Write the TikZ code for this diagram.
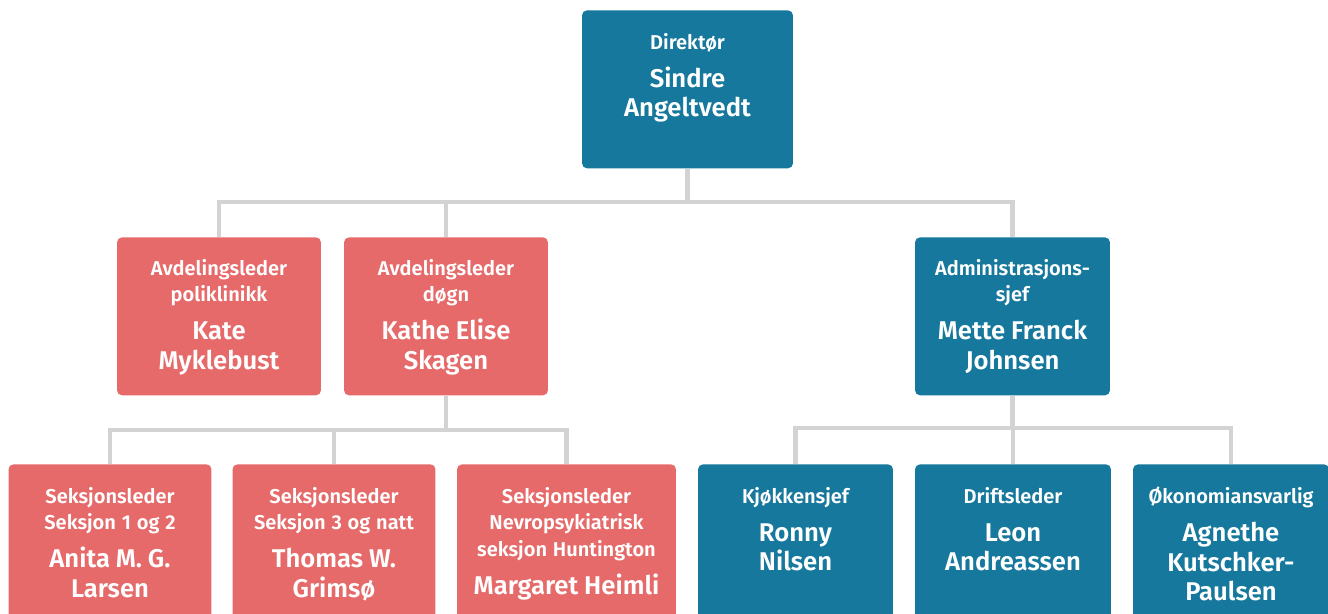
\documentclass[tikz,border=0pt]{standalone}
\usepackage{fontspec}
\setmainfont{Fira Sans}[BoldFont={Fira Sans SemiBold}]
\usetikzlibrary{positioning}
\definecolor{orgteal}{RGB}{22,120,156}
\definecolor{orgred}{RGB}{230,106,106}
\definecolor{orgline}{RGB}{211,211,211}
\newcommand{\titlef}{\fontsize{11.4}{15.1}\selectfont}
\newcommand{\namef}{\fontsize{14.6}{16.6}\selectfont}
\tikzset{
  orgbox/.style={anchor=north, rounded corners=0.1cm, minimum height=3.16cm, inner sep=0pt},
  tealbox/.style={orgbox, fill=orgteal},
  redbox/.style={orgbox, fill=orgred},
  boxtext/.style={anchor=north, inner sep=0pt, text=white, font=\bfseries,
    text width=4.3cm, align=center},
  conn/.style={draw=orgline, line width=2.4pt}
}
\begin{document}
\begin{tikzpicture}[x=0.02cm, y=-0.02cm]
  \clip (0,0) rectangle (1328,614);
  \fill[white] (0,0) rectangle (1328,614);
  % boxes
  \node[tealbox, minimum width=4.22cm] (dir) at (687.5,10) {};
  \node[redbox, minimum width=4.08cm] (avd1) at (219,237) {};
  \node[redbox, minimum width=4.08cm] (avd2) at (446,237) {};
  \node[tealbox, minimum width=3.90cm] (adm) at (1012.5,237) {};
  \node[redbox, minimum width=4.06cm] (sek1) at (110,464) {};
  \node[redbox, minimum width=4.06cm] (sek2) at (334,464) {};
  \node[redbox, minimum width=4.38cm] (sek3) at (566.5,464) {};
  \node[tealbox, minimum width=3.90cm] (kjo) at (795.5,464) {};
  \node[tealbox, minimum width=3.92cm] (drift) at (1013,464) {};
  \node[tealbox, minimum width=3.92cm] (oko) at (1231,464) {};
  % texts
  \node[boxtext, below=0.46cm of dir.north] (dir-t) {\titlef Direktør\par\vspace{5pt}
    \namef Sindre\\Angeltvedt\par};
  \node[boxtext, below=0.44cm of avd1.north] (avd1-t) {\titlef Avdelingsleder\\poliklinikk\par\vspace{5pt}
    \namef Kate\\Myklebust\par};
  \node[boxtext, below=0.44cm of avd2.north] (avd2-t) {\titlef Avdelingsleder\\døgn\par\vspace{5pt}
    \namef Kathe Elise\\Skagen\par};
  \node[boxtext, below=0.44cm of adm.north] (adm-t) {\titlef Administrasjons-\\sjef\par\vspace{5pt}
    \namef Mette Franck\\Johnsen\par};
  \node[boxtext, below=0.46cm of sek1.north] (sek1-t) {\titlef Seksjonsleder\\Seksjon 1 og 2\par\vspace{5pt}
    \namef Anita M. G.\\Larsen\par};
  \node[boxtext, below=0.46cm of sek2.north] (sek2-t) {\titlef Seksjonsleder\\Seksjon 3 og natt\par\vspace{5pt}
    \namef Thomas W.\\Grimsø\par};
  \node[boxtext, below=0.46cm of sek3.north] (sek3-t) {\titlef Seksjonsleder\\Nevropsykiatrisk\\seksjon Huntington\par\vspace{5pt}
    \namef Margaret Heimli\par};
  \node[boxtext, below=0.46cm of kjo.north] (kjo-t) {\titlef Kjøkkensjef\par\vspace{5pt}
    \namef Ronny\\Nilsen\par};
  \node[boxtext, below=0.46cm of drift.north] (drift-t) {\titlef Driftsleder\par\vspace{5pt}
    \namef Leon\\Andreassen\par};
  \node[boxtext, below=0.46cm of oko.north] (oko-t) {\titlef Økonomiansvarlig\par\vspace{5pt}
    \namef Agnethe\\Kutschker-\\Paulsen\par};
  % connectors
  \coordinate (bus1) at (687.5,202);
  \coordinate (bus2) at (446,430);
  \coordinate (bus3) at (1012.5,428);
  \begin{scope}[conn]
    \draw (dir) -- (bus1);
    \draw (bus1) -| (avd1);
    \draw (bus1) -| (avd2);
    \draw (bus1) -| (adm);
    \draw (avd2) -- (bus2);
    \draw (bus2) -| (sek1);
    \draw (bus2) -| (sek2);
    \draw (bus2) -| (sek3);
    \draw (adm) -- (bus3);
    \draw (bus3) -| (kjo);
    \draw (bus3) -| (drift);
    \draw (bus3) -| (oko);
  \end{scope}
\end{tikzpicture}
\end{document}
